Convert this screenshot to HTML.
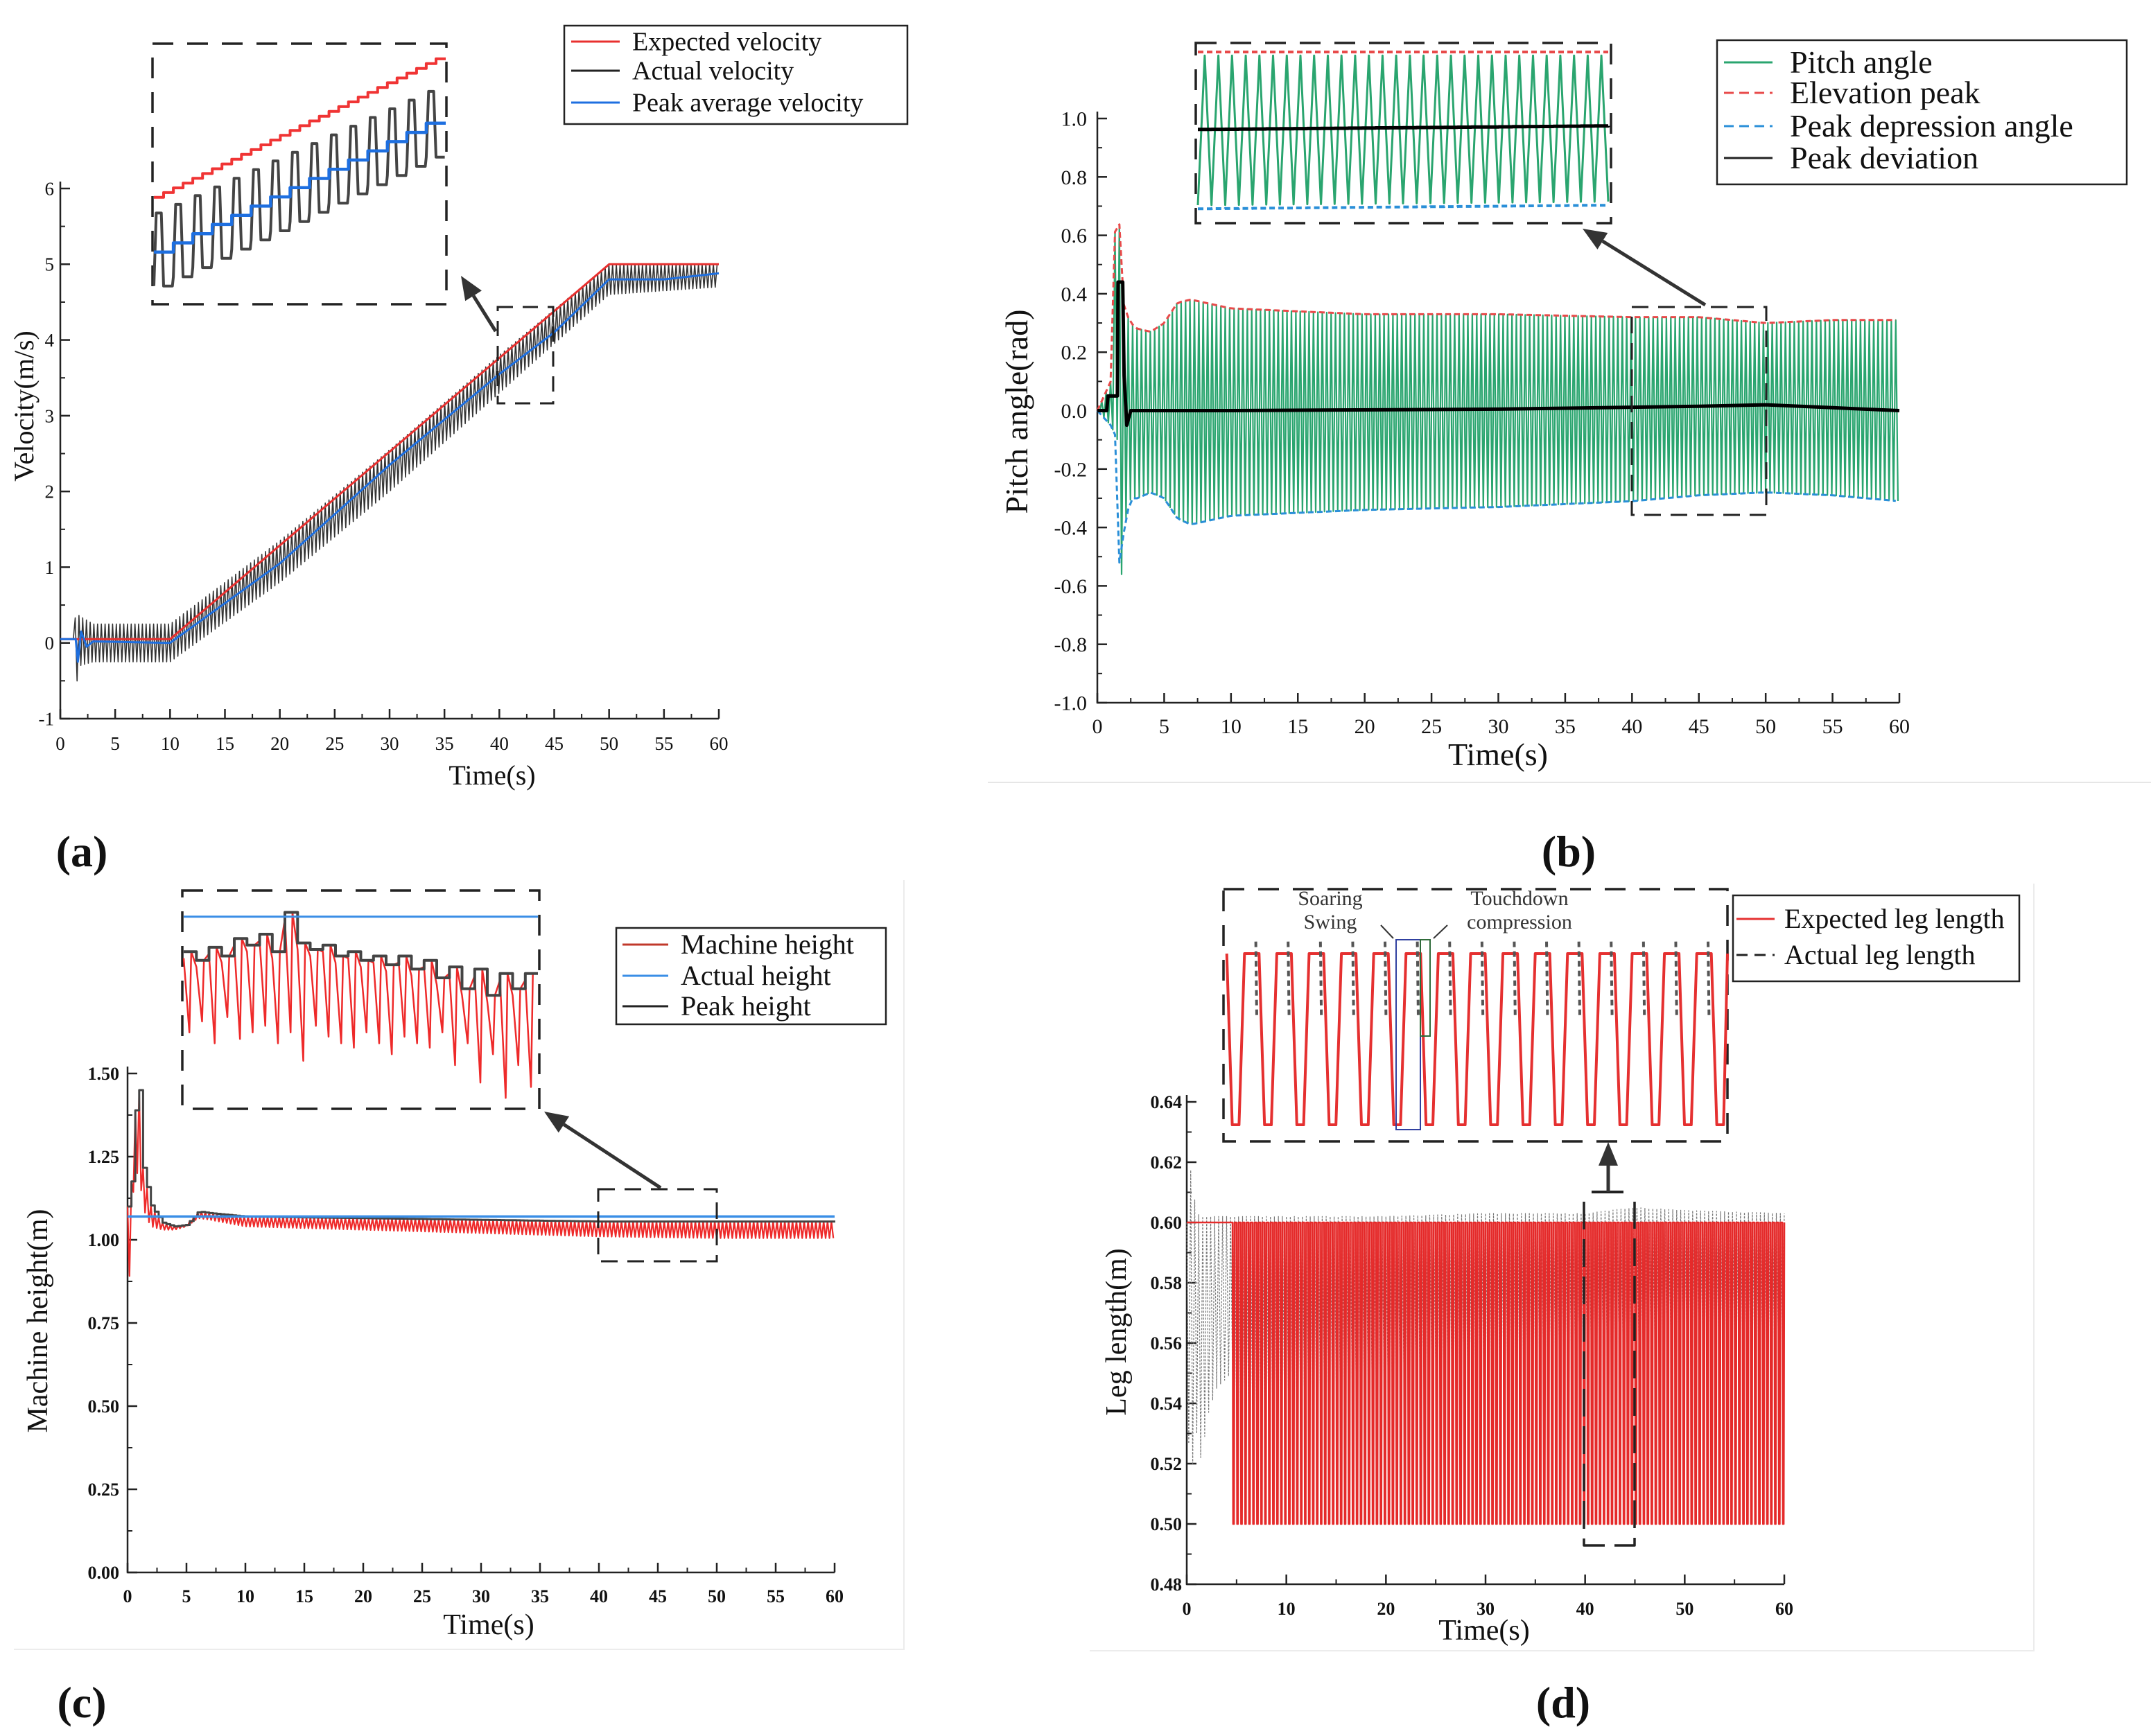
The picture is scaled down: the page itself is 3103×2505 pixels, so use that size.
<!DOCTYPE html>
<html><head><meta charset="utf-8"><style>
html,body{margin:0;padding:0;background:#fff;}
svg{display:block;}
text{font-family:"Liberation Serif",serif;}
</style></head><body>
<svg id="fig" xmlns="http://www.w3.org/2000/svg" width="3103" height="2505" viewBox="0 0 3103 2505">
<rect x="0" y="0" width="3103" height="2505" fill="#fff"/>
</svg>
<script>
// ---------- DATA ----------
// Panel (a) velocity
const aExpT = [0, 10, 50, 60];
const aExpV = [0.05, 0.05, 5.0, 5.0];
const aAvgT = [0, 1.4, 1.6, 1.9, 2.4, 3, 10, 20, 30, 40, 45, 50, 55, 60];
const aAvgV = [0.05, 0.05, -0.25, 0.15, -0.05, 0.02, 0, 1.05, 2.35, 3.55, 4.1, 4.8, 4.8, 4.88];
const aActT = [0, 1.2, 1.4, 1.8, 3, 10, 20, 30, 40, 50, 60];
const aActUp = [0.05, 0.05, 0.4, 0.35, 0.25, 0.25, 1.35, 2.55, 3.8, 5.0, 5.0];
const aActLo = [0.05, 0.05, -0.6, -0.3, -0.25, -0.25, 0.8, 2.0, 3.3, 4.6, 4.7];
const aPeriod = [0.34];
const aXTicks = [0,5,10,15,20,25,30,35,40,45,50,55,60];
const aYTicks = [-1,0,1,2,3,4,5,6];
const aInRed = [0.41, 0.96];
const aInBlue = [0.20, 0.73];
const aInPeak = [0.35, 0.85];
const aInTrough = [0.07, 0.60];
const aInCycles = [15];

// Panel (b) pitch
const bT = [0, 1, 1.5, 1.7, 2, 2.5, 3, 4, 5, 6, 7, 10, 20, 30, 40, 45, 50, 55, 60];
const bUp = [0, 0.1, 0.9, 0.55, 0.35, 0.3, 0.28, 0.27, 0.3, 0.37, 0.38, 0.35, 0.33, 0.33, 0.32, 0.32, 0.3, 0.31, 0.31];
const bLo = [0, -0.05, -0.1, -0.66, -0.4, -0.3, -0.3, -0.28, -0.3, -0.37, -0.39, -0.36, -0.34, -0.33, -0.31, -0.29, -0.28, -0.29, -0.31];
const bDevT = [0, 0.7, 0.8, 1.5, 1.55, 1.9, 2.0, 2.2, 2.5, 10, 30, 45, 50, 55, 60];
const bDevV = [0, 0, 0.05, 0.05, 0.44, 0.44, 0.12, -0.05, 0.0, 0.0, 0.005, 0.015, 0.02, 0.01, 0.0];
const bPeriod = [0.33];
const bXTicks = [0,5,10,15,20,25,30,35,40,45,50,55,60];
const bYTicks = [-1,-0.8,-0.6,-0.4,-0.2,0,0.2,0.4,0.6,0.8,1.0];
const bInCycles = [30];
const bInTop = [0.93, 0.93];
const bInBot = [0.10, 0.12];
const bInDev = [0.52, 0.54];

// Panel (c) height
const cT = [0, 0.3, 0.5, 0.8, 1.0, 1.3, 1.7, 2.0, 3, 4, 5, 6, 7, 10, 20, 30, 40, 50, 60];
const cPeak = [1.1, 1.15, 1.32, 1.45, 1.45, 1.22, 1.15, 1.1, 1.05, 1.04, 1.045, 1.085, 1.08, 1.07, 1.065, 1.06, 1.055, 1.055, 1.055];
const cLow = [0.88, 0.9, 1.15, 1.2, 1.2, 1.1, 1.06, 1.04, 1.03, 1.03, 1.04, 1.065, 1.06, 1.04, 1.03, 1.02, 1.01, 1.005, 1.005];
const cActual = [1.07];
const cPeriod = [0.33];
const cXTicks = [0,5,10,15,20,25,30,35,40,45,50,55,60];
const cYTicks = [0,0.25,0.5,0.75,1.0,1.25,1.5];
const cInTroughs = [0.35,0.4,0.3,0.42,0.32,0.35,0.38,0.3,0.35,0.22,0.38,0.33,0.3,0.28,0.35,0.3,0.25,0.33,0.3,0.28,0.35,0.2,0.3,0.12,0.25,0.05,0.2,0.1];
const cInPeaks = [0.72,0.68,0.74,0.7,0.78,0.75,0.8,0.72,0.9,0.76,0.73,0.75,0.7,0.72,0.68,0.7,0.66,0.7,0.64,0.68,0.6,0.65,0.55,0.64,0.52,0.62,0.55,0.62];
const cInBlue = [0.88];

// Panel (d) leg length
const dExpTop = [0.60];
const dExpBot = [0.50];
const dExpStart = [4.6];
const dActT = [0, 0.3, 0.6, 1.0, 1.5, 2, 3, 4.5, 5, 7, 10, 20, 30, 40, 45, 50, 60];
const dActLo = [0.60, 0.49, 0.52, 0.53, 0.52, 0.535, 0.545, 0.55, 0.54, 0.54, 0.545, 0.55, 0.555, 0.56, 0.56, 0.565, 0.56];
const dActUp = [0.60, 0.62, 0.612, 0.603, 0.602, 0.602, 0.602, 0.602, 0.602, 0.602, 0.602, 0.602, 0.603, 0.603, 0.605, 0.604, 0.603];
const dPeriod = [0.4];
const dXTicks = [0,10,20,30,40,50,60];
const dYTicks = [0.48,0.5,0.52,0.54,0.56,0.58,0.6,0.62,0.64];
const dInCycles = [15.3];
const dInDip = [0.62];

// ---------- HELPERS ----------
const NS = "http://www.w3.org/2000/svg";
const svg = document.getElementById('fig');
function mk(tag, attrs, parent) {
  const e = document.createElementNS(NS, tag);
  for (const k in attrs) e.setAttribute(k, attrs[k]);
  (parent || svg).appendChild(e);
  return e;
}
function lin(d0, d1, r0, r1) { return v => r0 + (v - d0) / (d1 - d0) * (r1 - r0); }
function interp(ts, vs, t) {
  if (t <= ts[0]) return vs[0];
  for (let i = 1; i < ts.length; i++) if (t <= ts[i]) return vs[i-1] + (vs[i]-vs[i-1]) * (t - ts[i-1]) / (ts[i]-ts[i-1]);
  return vs[vs.length-1];
}
function pathD(pts, sx, sy) { return pts.map((p, i) => (i ? 'L' : 'M') + sx(p[0]).toFixed(1) + ' ' + sy(p[1]).toFixed(1)).join(''); }
function oscPts(ts, up, lo, period, t0, t1) {
  const pts = []; let k = 0;
  for (let t = t0; t <= t1 + 1e-9; t += period / 2) { pts.push([t, k % 2 ? interp(ts, lo, t) : interp(ts, up, t)]); k++; }
  return pts;
}
function txt(x, y, s, size, anchor, extra) {
  const e = mk('text', Object.assign({x: x, y: y, 'font-size': size, 'text-anchor': anchor || 'start', fill: '#111'}, extra || {}));
  e.textContent = s;
  return e;
}
function axes(g, sx, sy, xt, yt, xr, yr, fmtY, fs, bold, xminor, yminor, xlabY, ylabX) {
  const l = mk('path', {d: `M${sx(xr[0])} ${sy(yr[1])-10}L${sx(xr[0])} ${sy(yr[0])}L${sx(xr[1])} ${sy(yr[0])}`, fill: 'none', stroke: '#222', 'stroke-width': 2.5}, g);
  
  
  xt.forEach(v => {
    const t = mk('line', {x1: sx(v), x2: sx(v), y1: sy(yr[0]), y2: sy(yr[0]) - 14, stroke: '#222', 'stroke-width': 2.5}, g);
    
    
    const tl = txt(sx(v), xlabY, String(v), fs, 'middle', {'font-weight': bold ? 'bold' : 'normal'});
    g.appendChild(tl);
    
    
  });
  for (let i = 0; i < xt.length - 1; i++) {
    const m = (xt[i] + xt[i+1]) / 2;
    const t = mk('line', {x1: sx(m), x2: sx(m), y1: sy(yr[0]), y2: sy(yr[0]) - 7, stroke: '#222', 'stroke-width': 2}, g);
    
    
  }
  yt.forEach(v => {
    const t = mk('line', {x1: sx(xr[0]), x2: sx(xr[0]) + 14, y1: sy(v), y2: sy(v), stroke: '#222', 'stroke-width': 2.5}, g);
    
    
    const tl = txt(ylabX, sy(v) + fs * 0.35, fmtY(v), fs, 'end', {'font-weight': bold ? 'bold' : 'normal'});
    g.appendChild(tl);
    
    
  });
  for (let i = 0; i < yt.length - 1; i++) {
    const m = (yt[i] + yt[i+1]) / 2;
    const t = mk('line', {x1: sx(xr[0]), x2: sx(xr[0]) + 7, y1: sy(m), y2: sy(m), stroke: '#222', 'stroke-width': 2}, g);
    
    
  }
}
function dashBox(g, x0, y0, x1, y1, name, sw, dash) {
  const r = mk('rect', {x: x0, y: y0, width: x1 - x0, height: y1 - y0, fill: 'none', stroke: '#222', 'stroke-width': sw || 3, 'stroke-dasharray': dash || '30 18'}, g);
  
  
}
function arrow(g, x0, y0, x1, y1, name) {
  const ang = Math.atan2(y1 - y0, x1 - x0), L = 34, Wd = 14;
  const bx = x1 - L * Math.cos(ang), by = y1 - L * Math.sin(ang);
  const ln = mk('line', {x1: x0, y1: y0, x2: bx, y2: by, stroke: '#333', 'stroke-width': 5}, g);
  
  
  const px = -Math.sin(ang) * Wd, py = Math.cos(ang) * Wd;
  const hd = mk('polygon', {points: `${x1},${y1} ${bx+px},${by+py} ${bx-px},${by-py}`, fill: '#333'}, g);
  
  
}
function legend(g, x0, y0, x1, y1, items, fs, lx0, lx1, tx) {
  const r = mk('rect', {x: x0, y: y0, width: x1 - x0, height: y1 - y0, fill: '#fff', stroke: '#222', 'stroke-width': 2.5}, g);
  
  
  items.forEach(it => {
    const l = mk('line', {x1: lx0, x2: lx1, y1: it.y, y2: it.y, stroke: it.c, 'stroke-width': 3, 'stroke-dasharray': it.d || 'none'}, g);
    
    
    const t = txt(tx, it.y + fs * 0.33, it.label, fs, 'start');
    g.appendChild(t);
    
    
  });
}
function group(name) { const g = mk('g', {});   return g; }
function line(g, d, stroke, sw, name, dash) {
  const p = mk('path', {d: d, fill: 'none', stroke: stroke, 'stroke-width': sw, 'stroke-linejoin': 'round', 'stroke-dasharray': dash || 'none'}, g);
  
  
  return p;
}
function label(s, x, y, name) {
  const t = txt(x, y, s, 64, 'middle', {'font-weight': 'bold'});
  
  
}

// ---------- PANEL A ----------
(function () {
  const g = group('panel-a-velocity');
  const sx = lin(0, 60, 87, 1037), sy = lin(-1, 6, 1037, 272);
  axes(g, sx, sy, aXTicks, aYTicks, [0, 60], [-1, 6], v => String(v), 27, false, true, true, 1082, 78);
  line(g, pathD(oscPts(aActT, aActUp, aActLo, aPeriod[0], 0, 60), sx, sy), '#333', 1.6, 'actual-velocity-line');
  line(g, pathD(aExpT.map((t, i) => [t, aExpV[i]]), sx, sy), '#e8302f', 3, 'expected-velocity-line');
  line(g, pathD(aAvgT.map((t, i) => [t, aAvgV[i]]), sx, sy), '#1e6fe0', 3, 'peak-average-velocity-line');
  const xt = txt(710, 1132, 'Time(s)', 40, 'middle'); g.appendChild(xt);
   
  const yt = txt(0, 0, 'Velocity(m/s)', 40, 'middle', {transform: 'translate(48,586) rotate(-90)'}); g.appendChild(yt);
   
  legend(g, 814, 37, 1309, 179, [{y: 60, c: '#e8302f', label: 'Expected velocity'}, {y: 102, c: '#222', label: 'Actual velocity'}, {y: 148, c: '#1e6fe0', label: 'Peak average velocity'}], 38, 824, 894, 912);
  dashBox(g, 718, 443, 798, 582, 'zoom-region-box', 3, '22 14');
  arrow(g, 715, 478, 665, 398, 'zoom-arrow');
  const ix = lin(0, aInCycles[0], 222, 643), iy = lin(0, 1, 439, 63);
  dashBox(g, 220, 63, 644, 439, 'inset-box', 3.5, '30 20');
  const red = [], blue = [], blk = [];
  const N = aInCycles[0];
  for (let k = 0; k < 2 * N; k++) { const f = k / (2 * N), v = aInRed[0] + (aInRed[1] - aInRed[0]) * f; red.push([k / 2, v], [(k + 1) / 2, v]); }
  for (let k = 0; k < N; k++) { const f = k / N, v = aInBlue[0] + (aInBlue[1] - aInBlue[0]) * f; blue.push([k, v], [k + 1, v]); }
  for (let k = 0; k < N; k++) {
    const f = k / N, pk = aInPeak[0] + (aInPeak[1] - aInPeak[0]) * f, tr = aInTrough[0] + (aInTrough[1] - aInTrough[0]) * f;
    blk.push([k, tr], [k + 0.12, pk], [k + 0.38, pk], [k + 0.5, tr], [k + 0.95, tr]);
  }
  line(g, pathD(blk, ix, iy), '#444', 4, 'inset-actual-velocity');
  line(g, pathD(red, ix, iy), '#f03434', 4, 'inset-expected-velocity');
  line(g, pathD(blue, ix, iy), '#1e6fe0', 4.5, 'inset-peak-average');
  label('(a)', 118, 1250, 'panel-a-label');
})();

// ---------- PANEL B ----------
(function () {
  const g = group('panel-b-pitch');
  const bl = mk('line', {x1: 1425, x2: 3103, y1: 1129, y2: 1129, stroke: '#e6e6e6', 'stroke-width': 2}, g);
   
  const sx = lin(0, 60, 1583, 2740), sy = lin(-1, 1, 1014, 171);
  axes(g, sx, sy, bXTicks, bYTicks, [0, 60], [-1, 1], v => (v < 0 ? '-' : '') + Math.abs(v).toFixed(1), 30, false, true, true, 1058, 1568);
  const osc = oscPts(bT, bUp, bLo, bPeriod[0], 0, 60);
  line(g, pathD(osc, sx, sy), '#2aa56f', 2.2, 'pitch-angle-line');
  const upPts = [], loPts = [];
  for (let t = 0; t <= 60; t += bPeriod[0]) { upPts.push([t, interp(bT, bUp, t)]); loPts.push([t, interp(bT, bLo, t)]); }
  line(g, pathD(upPts, sx, sy), '#e84a4a', 3, 'elevation-peak-line', '8 5');
  line(g, pathD(loPts, sx, sy), '#2a8fd8', 3, 'peak-depression-line', '8 5');
  line(g, pathD(bDevT.map((t, i) => [t, bDevV[i]]), sx, sy), '#000', 5, 'peak-deviation-line');
  const xt = txt(2161, 1104, 'Time(s)', 46, 'middle'); g.appendChild(xt);
   
  const yt = txt(0, 0, 'Pitch angle(rad)', 46, 'middle', {transform: 'translate(1482,594) rotate(-90)'}); g.appendChild(yt);
   
  legend(g, 2477, 58, 3068, 266, [{y: 90, c: '#2aa56f', label: 'Pitch angle'}, {y: 134, c: '#e84a4a', label: 'Elevation peak', d: '14 8'}, {y: 182, c: '#2a8fd8', label: 'Peak depression angle', d: '14 8'}, {y: 228, c: '#222', label: 'Peak deviation'}], 46, 2487, 2557, 2582);
  dashBox(g, 2354, 443, 2548, 743, 'zoom-region-box', 3, '24 14');
  arrow(g, 2460, 440, 2283, 330, 'zoom-arrow');
  dashBox(g, 1725, 62, 2324, 322, 'inset-box', 3.5, '30 20');
  const N = bInCycles[0];
  const ix = lin(0, N, 1728, 2320), iy = lin(0, 1, 322, 62);
  const gp = [], tp = [], bp = [], dp = [];
  for (let k = 0; k <= N; k++) {
    const f = k / N;
    const top = bInTop[0] + (bInTop[1] - bInTop[0]) * f, bot = bInBot[0] + (bInBot[1] - bInBot[0]) * f;
    gp.push([k, bot], [k + 0.5, top]);
    tp.push([k, top + 0.02], [k + 1, top + 0.02]);
    bp.push([k, bot - 0.02], [k + 1, bot - 0.02]);
    const dv = bInDev[0] + (bInDev[1] - bInDev[0]) * f;
    dp.push([k, dv], [k + 1, dv]);
  }
  line(g, pathD(gp.filter(p => p[0] <= N), ix, iy), '#2aa56f', 3, 'inset-pitch-angle');
  line(g, pathD(tp.filter(p => p[0] <= N), ix, iy), '#e84a4a', 4, 'inset-elevation-peak', '8 5');
  line(g, pathD(bp.filter(p => p[0] <= N), ix, iy), '#2a8fd8', 4, 'inset-depression-peak', '8 5');
  line(g, pathD(dp.filter(p => p[0] <= N), ix, iy), '#000', 5, 'inset-peak-deviation');
  label('(b)', 2263, 1250, 'panel-b-label');
})();

// ---------- PANEL C ----------
(function () {
  const g = group('panel-c-height');
  const br = mk('path', {d: 'M20 2380L1304 2380L1304 1270', fill: 'none', stroke: '#ececec', 'stroke-width': 2}, g);
   
  const sx = lin(0, 60, 184, 1204), sy = lin(0, 1.5, 2269, 1549);
  axes(g, sx, sy, cXTicks, cYTicks, [0, 60], [0, 1.5], v => v.toFixed(2), 26, true, true, true, 2312, 172);
  line(g, pathD(oscPts(cT, cPeak, cLow, cPeriod[0], 0, 60), sx, sy), '#ee2a2a', 2.2, 'machine-height-line');
  const pk = [];
  for (let t = 0; t <= 60; t += cPeriod[0]) { const v = interp(cT, cPeak, t); pk.push([t, v], [t + cPeriod[0], v]); }
  line(g, pathD(pk, sx, sy), '#444', 3, 'peak-height-line');
  line(g, pathD([[0, cActual[0]], [60, cActual[0]]], sx, sy), '#3a8ee6', 3.5, 'actual-height-line');
  const xt = txt(705, 2358, 'Time(s)', 42, 'middle'); g.appendChild(xt);
   
  const yt = txt(0, 0, 'Machine height(m)', 42, 'middle', {transform: 'translate(68,1906) rotate(-90)'}); g.appendChild(yt);
   
  legend(g, 889, 1339, 1278, 1478, [{y: 1363, c: '#c0392b', label: 'Machine height'}, {y: 1408, c: '#3a8ee6', label: 'Actual height'}, {y: 1452, c: '#222', label: 'Peak height'}], 40, 898, 964, 982);
  dashBox(g, 863, 1716, 1034, 1820, 'zoom-region-box', 3, '24 14');
  arrow(g, 953, 1714, 785, 1604, 'zoom-arrow');
  dashBox(g, 263, 1285, 778, 1600, 'inset-box', 3.5, '30 20');
  const N = cInTroughs.length;
  const ix = lin(0, N, 265, 776), iy = lin(0, 1, 1600, 1285);
  const rp = [], bp = [];
  for (let k = 0; k < N; k++) {
    rp.push([k, cInPeaks[k] - 0.03], [k + 0.45, cInTroughs[k]], [k + 0.6, cInPeaks[k]]);
    bp.push([k, cInPeaks[k]], [k + 1, cInPeaks[k]]);
  }
  line(g, pathD(rp, ix, iy), '#ee2a2a', 2.5, 'inset-machine-height');
  line(g, pathD(bp, ix, iy), '#444', 4, 'inset-peak-height');
  line(g, pathD([[0, cInBlue[0]], [N, cInBlue[0]]], ix, iy), '#3a8ee6', 3, 'inset-actual-height');
  label('(c)', 118, 2478, 'panel-c-label');
})();

// ---------- PANEL D ----------
(function () {
  const g = group('panel-d-leg-length');
  const br = mk('path', {d: 'M1572 2382L2934 2382L2934 1275', fill: 'none', stroke: '#ececec', 'stroke-width': 2}, g);
   
  const sx = lin(0, 60, 1712, 2574), sy = lin(0.48, 0.64, 2286, 1590);
  axes(g, sx, sy, dXTicks, dYTicks, [0, 60], [0.48, 0.64], v => v.toFixed(2), 26, true, true, true, 2330, 1705);
  line(g, pathD(oscPts(dActT, dActUp, dActLo, dPeriod[0], 0, 60), sx, sy), '#777', 1.2, 'actual-leg-length-line', '3 2');
  const p = dPeriod[0], red = [[0, dExpTop[0]], [dExpStart[0], dExpTop[0]]];
  for (let t = dExpStart[0]; t < 60 - p * 0.5; t += p) {
    red.push([t, dExpTop[0]], [t + 0.15 * p, dExpBot[0]], [t + 0.35 * p, dExpBot[0]], [t + 0.5 * p, dExpTop[0]]);
  }
  red.push([60, dExpTop[0]]);
  line(g, pathD(red, sx, sy), '#e52a2a', 2.6, 'expected-leg-length-line');
  const xt = txt(2141, 2366, 'Time(s)', 42, 'middle'); g.appendChild(xt);
   
  const yt = txt(0, 0, 'Leg length(m)', 42, 'middle', {transform: 'translate(1624,1922) rotate(-90)'}); g.appendChild(yt);
   
  legend(g, 2500, 1292, 2913, 1416, [{y: 1326, c: '#e53030', label: 'Expected leg length'}, {y: 1378, c: '#222', label: 'Actual leg length', d: '16 10'}], 40, 2505, 2560, 2574);
  line(g, 'M2285 1734L2285 2230L2358 2230L2358 1734', '#222', 3.5, 'zoom-region-box', '40 14');
  line(g, 'M2296 1720L2342 1720', '#222', 4, 'arrow-base');
  arrow(g, 2320, 1720, 2320, 1648, 'zoom-arrow');
  dashBox(g, 1765, 1283, 2492, 1647, 'inset-box', 3.5, '30 20');
  const N = dInCycles[0];
  const ix = lin(0, N, 1779, 2492), iy = lin(0, 1, 1623, 1376);
  const rp = [], gp = [];
  for (let k = -0.2; k < N; k += 1) {
    rp.push([k, 1], [k + 0.17, 0], [k + 0.38, 0], [k + 0.55, 1], [k + 1, 1]);
    gp.push([k + 0.9, 1.07], [k + 0.93, dInDip[0]]);
  }
  const rpc = rp.map(q => [Math.max(-0.28, Math.min(N, q[0])), q[1]]);
  line(g, pathD(rpc, ix, iy), '#e53030', 4, 'inset-expected-leg-length');
  gp.filter(q => q[0] <= N).forEach((q, i, a) => {
    if (i % 2 === 0 && a[i + 1]) {
      const l = mk('line', {x1: ix(q[0]), y1: iy(q[1]), x2: ix(a[i+1][0]), y2: iy(a[i+1][1]), stroke: '#555', 'stroke-width': 4, 'stroke-dasharray': '8 6'}, g);
      
      
    }
  });
  const r1 = mk('rect', {x: 2014, y: 1356, width: 35, height: 274, fill: 'none', stroke: '#3040a0', 'stroke-width': 2}, g);
   
  const r2 = mk('rect', {x: 2049, y: 1356, width: 14, height: 139, fill: 'none', stroke: '#2f6b3a', 'stroke-width': 2}, g);
   
  [['Soaring', 1919, 1306], ['Swing', 1919, 1340], ['Touchdown', 2192, 1306], ['compression', 2192, 1340]].forEach(a => {
    const t = txt(a[1], a[2], a[0], 30, 'middle', {fill: '#333'}); g.appendChild(t);
     
  });
  line(g, 'M1992 1335L2010 1354', '#333', 2, 'annotation-pointer');
  line(g, 'M2088 1335L2068 1354', '#333', 2, 'annotation-pointer');
  label('(d)', 2255, 2478, 'panel-d-label');
})();
</script>
</body></html>
